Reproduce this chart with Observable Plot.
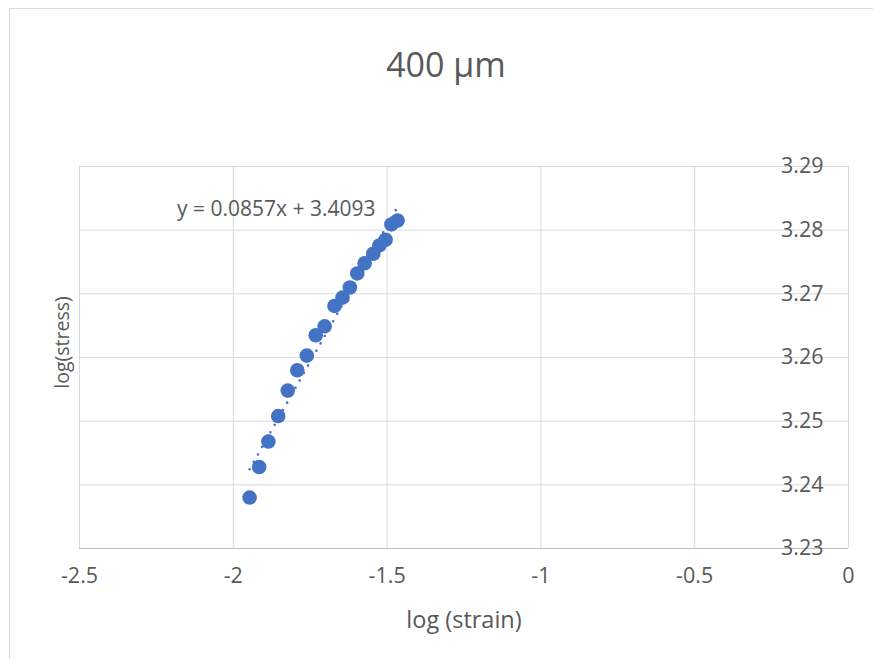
<!DOCTYPE html>
<html>
<head>
<meta charset="utf-8">
<script src="https://cdn.jsdelivr.net/npm/d3@7"></script>
<script src="https://cdn.jsdelivr.net/npm/@observablehq/plot@0.6"></script>
<style>
  html, body { margin: 0; padding: 0; background: #fff; overflow: hidden; }
  #wrap { position: relative; width: 873px; height: 659px; font-family: "Open Sans", sans-serif; }
  #frame { position: absolute; left: 9px; top: 8px; width: 900px; height: 700px; border: 1px solid #d9d9d9; box-sizing: border-box; }
  #chart { position: absolute; left: 0; top: 0; }
  #title { position: absolute; left: 9px; width: 874px; top: 44px; text-align: center; font-size: 34px; color: #595959; line-height: 40px; }
</style>
</head>
<body>
<div id="wrap">
  <div id="frame"></div>
  <div id="chart"></div>
  <div id="title">400 µm</div>
</div>
<script>
// log(strain) / log(stress) pairs for the 400 µm specimen
const logStrain = [-1.947, -1.916, -1.886, -1.854, -1.823, -1.792, -1.761, -1.732, -1.703, -1.671,
                   -1.645, -1.621, -1.597, -1.573, -1.545, -1.525, -1.505, -1.486, -1.466];
const logStress = [3.2380, 3.2428, 3.2468, 3.2508, 3.2548, 3.2580, 3.2603, 3.2635, 3.2649, 3.2681,
                   3.2694, 3.2710, 3.2732, 3.2748, 3.2763, 3.2776, 3.2785, 3.2809, 3.2815];

// linear trendline fitted in log-log space
const slope = 0.0857;
const intercept = 3.4093;

const xTicks = [-2.5, -2, -1.5, -1, -0.5, 0];
const yTicks = [3.23, 3.24, 3.25, 3.26, 3.27, 3.28, 3.29];

const points = logStrain.map((x, i) => ({x, y: logStress[i]}));
const [xMin, xMax] = d3.extent(logStrain);
const trend = [xMin, xMax].map(x => ({x, y: slope * x + intercept}));
const eqText = `y = ${slope}x + ${intercept}`;

const textColor = "#595959";
const gridColor = "#d9d9d9";

const chart = Plot.plot({
  width: 873,
  height: 659,
  marginLeft: 79,
  marginRight: 25,
  marginTop: 166,
  marginBottom: 111,
  style: {fontFamily: "'Open Sans', sans-serif", color: textColor, background: "transparent", overflow: "visible"},
  x: {domain: [-2.5, 0], ticks: xTicks},
  y: {domain: [3.23, 3.29], ticks: yTicks},
  marks: [
    Plot.gridX(xTicks, {stroke: gridColor, strokeOpacity: 1}),
    Plot.gridY(yTicks, {stroke: gridColor, strokeOpacity: 1}),
    Plot.ruleY([3.23], {stroke: "#bfbfbf", strokeWidth: 1.2}),
    Plot.dot(points, {x: "x", y: "y", r: 7.3, fill: "#4472c4", stroke: "none"}),
    Plot.line(trend, {x: "x", y: "y", stroke: "#4472c4", strokeWidth: 2.6, strokeDasharray: "0 8.5", strokeLinecap: "round"}),
    Plot.text([trend[1]], {x: "x", y: "y", text: () => eqText, textAnchor: "end", dx: -22, dy: 2, fontSize: 21, fill: textColor}),
    Plot.axisX(xTicks, {anchor: "bottom", tickSize: 0, tickPadding: 19, fontSize: 21.5, label: null, tickFormat: d => String(d)}),
    Plot.axisY(yTicks, {anchor: "right", tickSize: 0, tickPadding: -25, textAnchor: "end", fontSize: 21.5, label: null, tickFormat: d => d.toFixed(2)}),
    Plot.text(["log (strain)"], {frameAnchor: "bottom", dy: 79, fontSize: 23.5, fill: textColor}),
    Plot.text(["log(stress)"], {frameAnchor: "left", textAnchor: "middle", rotate: -90, dx: -17, dy: -15, fontSize: 19.5, fill: textColor})
  ]
});
document.getElementById("chart").appendChild(chart);
</script>
</body>
</html>
